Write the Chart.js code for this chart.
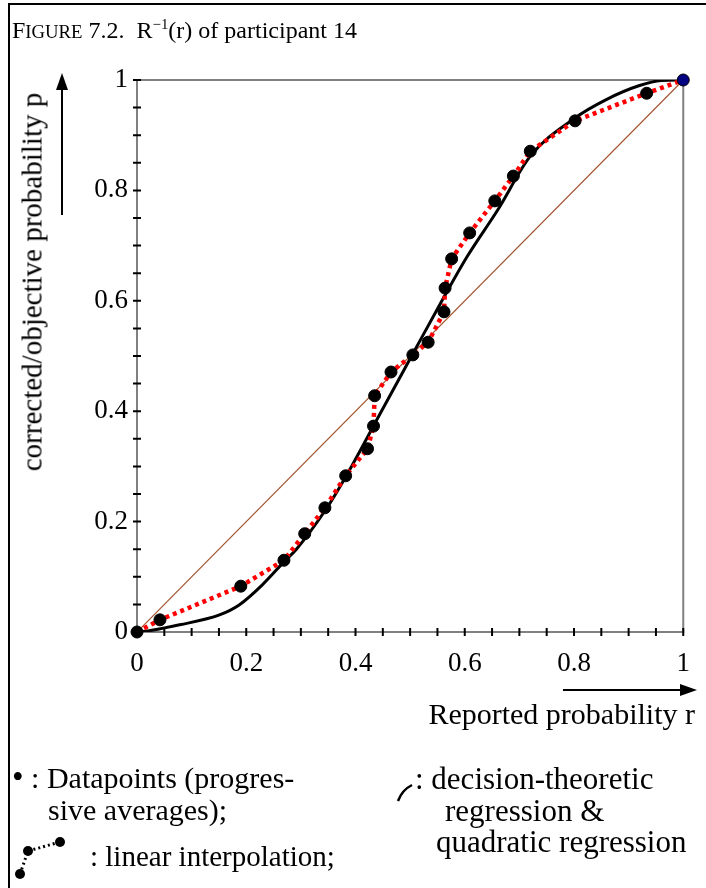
<!DOCTYPE html>
<html>
<head>
<meta charset="utf-8">
<script src="https://cdn.jsdelivr.net/npm/chart.js@4/dist/chart.umd.min.js"></script>
<style>
    body { margin: 0; background: #fff; }
    #wrap { position: relative; width: 706px; height: 888px; background: #fff; overflow: hidden; }
    #chart { position: absolute; left: 0; top: 0; }
    .txt { position: absolute; font-family: 'Liberation Serif', 'Times New Roman', serif; color: #000; white-space: nowrap; line-height: 1; }
    .sc { font-size: 0.78em; }
    sup { font-size: 0.62em; vertical-align: 0.6em; line-height: 0; }
</style>
</head>
<body>
<div id="wrap">
    <canvas id="chart" width="706" height="888"></canvas>
    <div class="txt" style="left:12px; top:18px; font-size:24px;">F<span class="sc">IGURE</span> 7.2.&nbsp; R<sup>&minus;1</sup>(r) of participant 14</div>
    <div class="txt" style="left:32px; top:282px; font-size:29px; transform:translate(-50%,-50%) rotate(-90deg);">corrected/objective probability p</div>
    <div class="txt" style="right:11px; top:699px; font-size:30px;">Reported probability r</div>
    <div class="txt" style="left:12px; top:761px; font-size:30px;"><span style="font-size:1.1em">&bull;</span>&nbsp;: Datapoints (progres-</div>
    <div class="txt" style="left:48px; top:795px; font-size:30px;">sive averages);</div>
    <div class="txt" style="left:90px; top:842px; font-size:29px;">: linear interpolation;</div>
    <div class="txt" style="left:415px; top:763px; font-size:31px;">: decision-theoretic</div>
    <div class="txt" style="left:445px; top:795px; font-size:31px;">regression &amp;</div>
    <div class="txt" style="left:436px; top:826px; font-size:31px;">quadratic regression</div>
</div>
<script>
// progressive averages (datapoints)
const pointsR = [0, 0.042, 0.19, 0.269, 0.307, 0.344, 0.382, 0.422, 0.433, 0.435, 0.465, 0.505,
    0.533, 0.562, 0.564, 0.576, 0.609, 0.655, 0.689, 0.72, 0.802, 0.933, 1];
const pointsP = [0, 0.022, 0.083, 0.13, 0.178, 0.225, 0.283, 0.332, 0.373, 0.428, 0.471, 0.502,
    0.525, 0.58, 0.623, 0.676, 0.723, 0.781, 0.826, 0.871, 0.926, 0.976, 1];

// decision-theoretic / quadratic regression curve
const curveR = [0, 0.02, 0.078, 0.151, 0.187, 0.229, 0.269, 0.291, 0.345, 0.382, 0.411, 0.436,
    0.505, 0.556, 0.605, 0.66, 0.72, 0.8, 0.86, 0.92, 0.96, 1];
const curveP = [0, 0.002, 0.013, 0.031, 0.049, 0.085, 0.127, 0.149, 0.221, 0.281, 0.333, 0.379,
    0.504, 0.596, 0.681, 0.764, 0.862, 0.93, 0.965, 0.99, 0.999, 1];

const diagR = [0, 1];
const diagP = [0, 1];

const tickLabels = { 0: '0', 2: '0.2', 4: '0.4', 6: '0.6', 8: '0.8', 10: '1' };

const FONT = "'Liberation Serif', 'Times New Roman', serif";

const toXY = (xs, ys) => xs.map((x, i) => ({ x: x, y: ys[i] }));

const tickCallback = (v) => {
    let k = Math.round(v * 20);
    if (k % 4 !== 0) {
        return '';
    }
    return tickLabels[k / 2];
};

const frame = {
    id: 'frame',
    beforeDatasetsDraw(chart) {
        const ctx = chart.ctx;
        const a = chart.chartArea;
        ctx.save();
        ctx.strokeStyle = '#808080';
        ctx.lineWidth = 2;
        ctx.strokeRect(a.left, a.top, a.right - a.left, a.bottom - a.top);

        ctx.strokeStyle = '#000';
        ctx.lineWidth = 2;
        const xs = chart.scales.x;
        const ys = chart.scales.y;
        ctx.beginPath();
        for (const t of xs.ticks) {
            const px = xs.getPixelForValue(t.value);
            ctx.moveTo(px, a.bottom - 4);
            ctx.lineTo(px, a.bottom + 4);
        }
        for (const t of ys.ticks) {
            const py = ys.getPixelForValue(t.value);
            ctx.moveTo(a.left - 4, py);
            ctx.lineTo(a.left + 4, py);
        }
        ctx.stroke();
        ctx.restore();
    },
    afterDraw(chart) {
        const ctx = chart.ctx;
        ctx.save();
        ctx.fillStyle = '#000';
        ctx.strokeStyle = '#000';

        // page border (left and top)
        ctx.lineWidth = 2;
        ctx.beginPath();
        ctx.moveTo(9, 888);
        ctx.lineTo(9, 4);
        ctx.lineTo(706, 4);
        ctx.stroke();

        // y arrow
        ctx.lineWidth = 2;
        ctx.beginPath();
        ctx.moveTo(62, 215);
        ctx.lineTo(62, 88);
        ctx.stroke();
        ctx.beginPath();
        ctx.moveTo(62, 73);
        ctx.lineTo(56, 90);
        ctx.lineTo(68, 90);
        ctx.closePath();
        ctx.fill();

        // x arrow
        ctx.beginPath();
        ctx.moveTo(563, 690);
        ctx.lineTo(682, 690);
        ctx.stroke();
        ctx.beginPath();
        ctx.moveTo(697, 690);
        ctx.lineTo(680, 684);
        ctx.lineTo(680, 696);
        ctx.closePath();
        ctx.fill();

        // legend icon: linear interpolation
        ctx.lineWidth = 3;
        ctx.setLineDash([2, 3]);
        ctx.beginPath();
        ctx.moveTo(20, 874);
        ctx.lineTo(28, 851);
        ctx.lineTo(60, 842);
        ctx.stroke();
        ctx.setLineDash([]);
        for (const [cx, cy] of [[20, 874], [28, 851], [60, 842]]) {
            ctx.beginPath();
            ctx.arc(cx, cy, 5, 0, Math.PI * 2);
            ctx.fill();
        }

        // legend icon: regression curve
        ctx.lineWidth = 2.5;
        ctx.beginPath();
        ctx.moveTo(398, 801);
        ctx.quadraticCurveTo(402, 790, 412, 785);
        ctx.stroke();
        ctx.restore();
    }
};

new Chart(document.getElementById('chart').getContext('2d'), {
    type: 'scatter',
    data: {
        datasets: [
            {
                type: 'scatter',
                data: toXY(pointsR, pointsP),
                backgroundColor: pointsR.map((r, i) => (i === pointsR.length - 1 ? '#000080' : '#000')),
                borderColor: '#000',
                borderWidth: 1,
                pointRadius: 6,
                clip: false,
                order: 1,
            },
            {
                type: 'line',
                data: toXY(pointsR, pointsP),
                borderColor: '#ff0000',
                borderWidth: 4.5,
                borderDash: [4, 4],
                pointRadius: 0,
                fill: false,
                order: 2,
            },
            {
                type: 'line',
                data: toXY(curveR, curveP),
                borderColor: '#000',
                borderWidth: 3,
                pointRadius: 0,
                cubicInterpolationMode: 'monotone',
                fill: false,
                order: 3,
            },
            {
                type: 'line',
                data: toXY(diagR, diagP),
                borderColor: '#a0522d',
                borderWidth: 1.2,
                pointRadius: 0,
                fill: false,
                order: 4,
            },
        ],
    },
    options: {
        responsive: false,
        animation: false,
        devicePixelRatio: 1,
        layout: { padding: { left: 77, top: 80, right: 19, bottom: 206 } },
        plugins: { legend: { display: false }, tooltip: { enabled: false } },
        scales: {
            x: {
                type: 'linear',
                min: 0,
                max: 1,
                grid: { display: false, drawTicks: false },
                border: { display: false },
                ticks: {
                    stepSize: 0.05,
                    autoSkip: false,
                    maxRotation: 0,
                    padding: 16,
                    color: '#000',
                    font: { family: FONT, size: 27 },
                    callback: tickCallback,
                },
                afterFit: (s) => { s.height = 50; },
            },
            y: {
                type: 'linear',
                min: 0,
                max: 1,
                grid: { display: false, drawTicks: false },
                border: { display: false },
                ticks: {
                    stepSize: 0.05,
                    autoSkip: false,
                    padding: 9,
                    color: '#000',
                    font: { family: FONT, size: 27 },
                    callback: tickCallback,
                },
                afterFit: (s) => { s.width = 60; },
            },
        },
    },
    plugins: [frame],
});
</script>
</body>
</html>
